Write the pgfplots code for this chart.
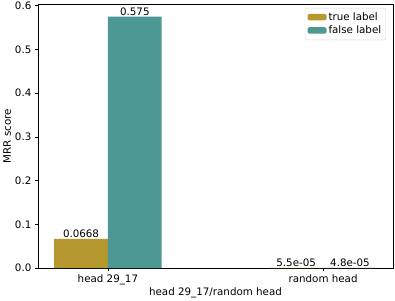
\documentclass[border=0pt]{standalone}
\usepackage{pgfplots}
\pgfplotsset{compat=1.18}
\usepackage{fontspec}
\setmainfont{DejaVu Sans}
\definecolor{goldc}{RGB}{181,153,47}
\definecolor{tealc}{RGB}{76,152,146}
\newcommand{\fs}{\fontsize{10.3}{12}\selectfont}
\begin{document}
\fs
\begin{tikzpicture}[x=1pt,y=1pt]
\path[use as bounding box] (-38,-32) rectangle (357,268);
\begin{axis}[
  at={(0,0)}, anchor=south west,
  scale only axis, width=355pt, height=264pt,
  xmin=-0.325, xmax=1.325, ymin=0, ymax=0.60375,
  ybar, bar width=0.25,
  xtick={0,1}, xticklabels={head 29\_17, random head},
  ytick={0,0.1,0.2,0.3,0.4,0.5,0.6},
  yticklabel style={/pgf/number format/.cd, fixed, fixed zerofill, precision=1},
  /pgf/number format/assume math mode=true,
  tick pos=left, tick align=outside,
  major tick length=3pt,
  axis line style={line width=0.6pt},
  tick style={line width=0.6pt, black},
  xlabel={head 29\_17/random head}, ylabel={MRR score},
  xlabel style={yshift=4pt},
  ylabel style={yshift=-3pt},
  ticklabel style={font=\fs},
  label style={font=\fs},
  legend style={at={(0.98,0.985)}, anchor=north east, draw=black!15, rounded corners=2pt, font=\fs, row sep=0pt, inner sep=2.5pt, cells={anchor=west}},
  legend image code/.code={\fill[#1] (0pt,-3pt) rectangle (19pt,3.5pt);},
  nodes near coords, point meta=explicit symbolic,
  every node near coord/.append style={font=\fs, black, inner sep=1pt},
]
\addplot[bar shift=-0.125, fill=goldc, draw=none] coordinates {(0,0.0668) [0.0668] (1,0.000055) [5.5e-05]};
\addlegendentry{true label}
\addplot[bar shift=0.125, fill=tealc, draw=none] coordinates {(0,0.575) [0.575] (1,0.000048) [4.8e-05]};
\addlegendentry{false label}
\end{axis}
\end{tikzpicture}
\end{document}
